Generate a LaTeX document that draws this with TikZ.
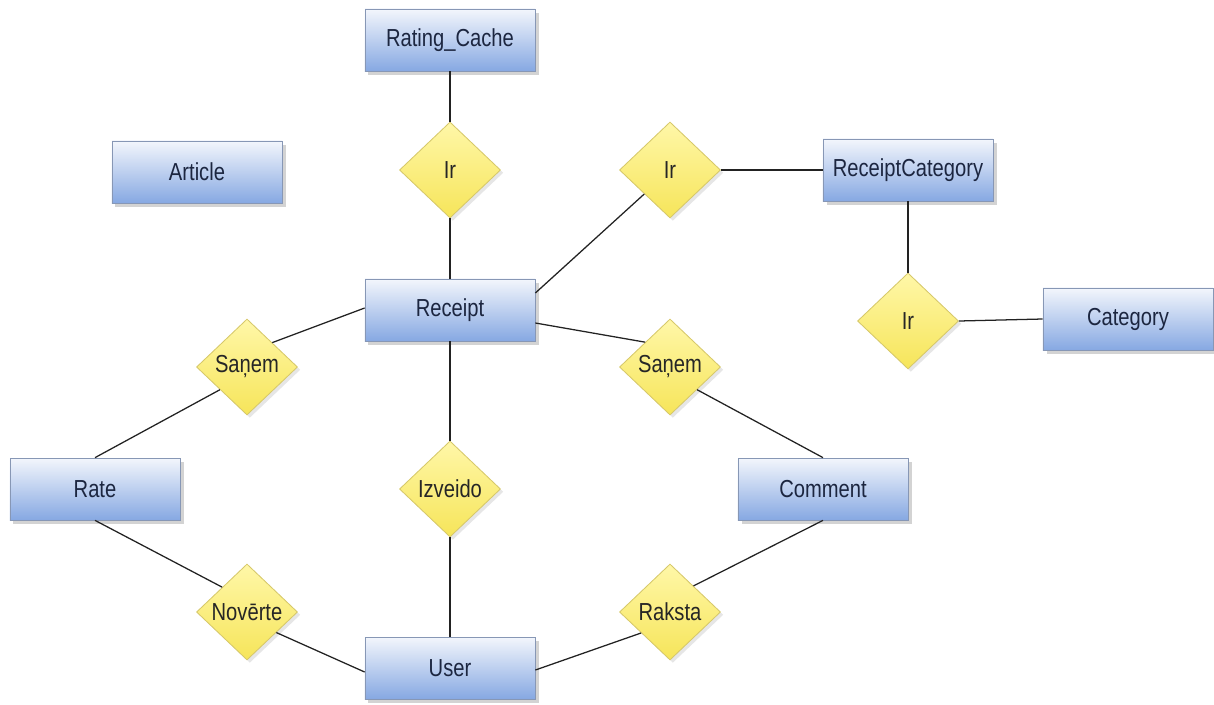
\documentclass[tikz,border=0pt]{standalone}
\usepackage{fontspec}
\setmainfont[FakeStretch=0.82]{Liberation Sans}
\usetikzlibrary{shapes.geometric,shadows,calc}
\definecolor{boxtop}{HTML}{F3F6FC}
\definecolor{boxmid}{HTML}{C9D9F3}
\definecolor{boxbot}{HTML}{86A8E2}
\definecolor{boxedge}{HTML}{8797B5}
\definecolor{boxtext}{HTML}{1C2640}
\definecolor{dtop}{HTML}{FFF7A8}
\definecolor{dbot}{HTML}{F6E55A}
\definecolor{dedge}{HTML}{D6C86A}
\definecolor{linec}{HTML}{222222}
\tikzset{
  entity/.style={rectangle, minimum width=4.25cm, minimum height=1.55cm, inner sep=0pt,
    top color=boxtop, middle color=boxmid, bottom color=boxbot, draw=boxedge, line width=0.5pt,
    text=boxtext, font=\fontsize{17.5}{20}\selectfont,
    drop shadow={shadow xshift=2.5pt, shadow yshift=-2.5pt, opacity=0.35, fill=gray}},
  rel/.style={diamond, minimum width=2.525cm, minimum height=2.4cm, inner sep=0pt,
    top color=dtop, bottom color=dbot, draw=dedge, line width=0.6pt,
    text=black!85, font=\fontsize{17.5}{20}\selectfont,
    drop shadow={shadow xshift=2pt, shadow yshift=-2pt, opacity=0.2, fill=gray}},
  conn/.style={draw=linec, line width=0.9pt}
}
\begin{document}
\begin{tikzpicture}[x=0.025cm, y=-0.025cm]
\useasboundingbox (0,0) rectangle (1214,704);
% entities
\node[entity] (rcache) at (450,40) {Rating\_Cache};
\node[entity] (article) at (197,172) {Article};
\node[entity] (rcat) at (908,170) {ReceiptCategory};
\node[entity] (receipt) at (450,310) {Receipt};
\node[entity] (cat) at (1128,319) {Category};
\node[entity] (rate) at (95,489) {Rate};
\node[entity] (comment) at (823,489) {Comment};
\node[entity] (user) at (450,668) {User};
% relations
\node[rel] (ir1) at (450,170) {Ir};
\node[rel] (ir2) at (670,170) {Ir};
\node[rel] (ir3) at (908,321) {Ir};
\node[rel] (sanemL) at (247,367) {Saņem};
\node[rel] (sanemR) at (670,367) {Saņem};
\node[rel] (izveido) at (450,489) {Izveido};
\node[rel] (noverte) at (247,612) {Novērte};
\node[rel] (raksta) at (670,612) {Raksta};
% connectors
\draw[conn] (rcache.south) -- (ir1.north);
\draw[conn] (ir1.south) -- (receipt.north);
\draw[conn] ($(receipt.east)+(0,-17)$) -- (ir2.223);
\draw[conn] (ir2.east) -- (rcat.west);
\draw[conn] (rcat.south) -- (ir3.north);
\draw[conn] (ir3.east) -- (cat.west);
\draw[conn] ($(receipt.west)+(0,-2)$) -- (sanemL.44);
\draw[conn] (sanemL.220) -- (rate.north);
\draw[conn] ($(receipt.east)+(0,13)$) -- (sanemR.135);
\draw[conn] (sanemR.320) -- (comment.north);
\draw[conn] (receipt.south) -- (izveido.north);
\draw[conn] (izveido.south) -- (user.north);
\draw[conn] (rate.south) -- (noverte.135);
\draw[conn] (noverte.325) -- ($(user.west)+(0,4)$);
\draw[conn] ($(user.east)+(0,2)$) -- (raksta.216);
\draw[conn] (raksta.48) -- (comment.south);
\end{tikzpicture}
\end{document}
